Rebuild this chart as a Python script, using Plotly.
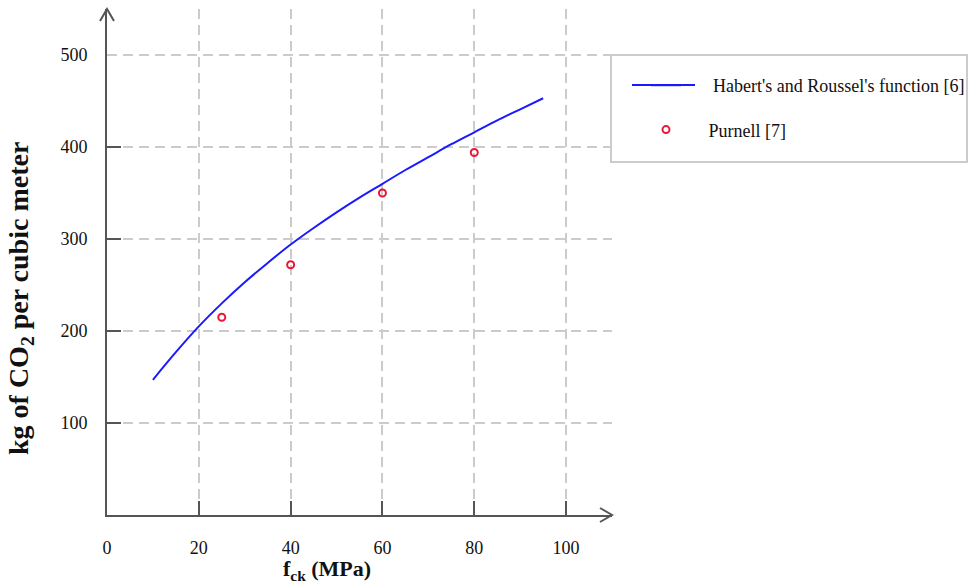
import plotly.graph_objects as go

# Habert's and Roussel's function
fck_curve = [10, 15, 20, 25, 30, 35, 40, 45, 50, 55, 60, 65, 70, 75, 80, 85, 90, 95]
co2_curve = [147, 177, 205, 230, 253, 274, 294, 312, 329, 345, 360, 375, 389, 403, 416, 429, 441, 453]

# Purnell [7]
fck_purnell = [25, 40, 60, 80]
co2_purnell = [215, 272, 350, 394]

x_ticks = [0, 20, 40, 60, 80, 100]
y_ticks = [100, 200, 300, 400, 500]

FONT = "Liberation Serif, Times New Roman, serif"
NB = "\u00a0"

fig = go.Figure()
fig.add_trace(go.Scatter(
    x=fck_curve, y=co2_curve, mode="lines", line=dict(color="#1a1aff", width=2, shape="spline"),
    name=NB * 6 + "Habert's and Roussel's function [6]", legendgroup="a"))
fig.add_trace(go.Scatter(
    x=fck_purnell, y=co2_purnell, mode="markers",
    marker=dict(symbol="circle-open", size=7, color="#e8173a", line=dict(width=2, color="#e8173a")),
    name=NB * 5 + "Purnell [7]", legendgroup="b"))

L, R, T, B = 107, 358, 9, 70
W, H = 970, 585
pw = W - L - R
ph = H - T - B

def px2paper_x(px):
    return (px - L) / pw

def px2paper_y(py):
    return (H - B - py) / ph

axis_color = "#555555"
grid_color = "#cccccc"

fig.update_layout(
    width=W, height=H,
    margin=dict(l=L, r=R, t=T, b=B, pad=0, autoexpand=False),
    plot_bgcolor="white", paper_bgcolor="white",
    font=dict(family=FONT, size=18, color="#111111"),
    showlegend=True,
    legend=dict(x=px2paper_x(646), xanchor="left", y=px2paper_y(67), yanchor="top",
                bgcolor="rgba(0,0,0,0)", borderwidth=0, tracegroupgap=18,
                font=dict(family=FONT, size=18, color="#111111"), itemwidth=30),
    xaxis=dict(range=[0, 110], tickvals=x_ticks, ticktext=[str(v) for v in x_ticks],
               ticks="", showgrid=True, gridcolor=grid_color, griddash="10px,6px", gridwidth=1.5,
               zeroline=False, showline=True, linecolor=axis_color, linewidth=2,
               ticklabelstandoff=15,
               minor=dict(tickvals=[20, 40, 60, 80, 100], ticks="inside", ticklen=14,
                          tickcolor=axis_color, tickwidth=2, showgrid=False)),
    yaxis=dict(range=[0, 550], tickvals=y_ticks, ticktext=[str(v) for v in y_ticks],
               ticks="", showgrid=True, gridcolor=grid_color, griddash="10px,6px", gridwidth=1.5,
               zeroline=False, showline=True, linecolor=axis_color, linewidth=2,
               ticklabelstandoff=14,
               minor=dict(tickvals=[100, 200, 300, 400], ticks="inside", ticklen=14,
                          tickcolor=axis_color, tickwidth=2, showgrid=False)),
)

# axis arrow heads (paper-referenced so they are not clipped)
fig.add_shape(type="path", xref="paper", yref="paper", xsizemode="pixel", ysizemode="pixel",
              xanchor=1, yanchor=0, path="M -12 7 L 0 0 L -12 -7",
              line=dict(color=axis_color, width=2))
fig.add_shape(type="path", xref="paper", yref="paper", xsizemode="pixel", ysizemode="pixel",
              xanchor=0, yanchor=1, path="M -7 -12 L 0 0 L 7 -12",
              line=dict(color=axis_color, width=2))

# legend box
fig.add_shape(type="rect", xref="paper", yref="paper",
              x0=px2paper_x(611), x1=px2paper_x(967), y0=px2paper_y(162), y1=px2paper_y(55),
              line=dict(color="#cccccc", width=2), fillcolor="white", layer="below")
# longer legend line sample
fig.add_shape(type="line", xref="paper", yref="paper",
              x0=px2paper_x(632), x1=px2paper_x(695), y0=px2paper_y(85), y1=px2paper_y(85),
              line=dict(color="#1a1aff", width=2))

# axis titles
fig.add_annotation(text="<b>f<sub>ck</sub> (MPa)</b>", xref="paper", yref="paper",
                   x=px2paper_x(327), y=px2paper_y(570), showarrow=False,
                   xanchor="center", yanchor="middle",
                   font=dict(family=FONT, size=22, color="#111111"))
fig.add_annotation(text="<b>kg of CO<sub>2</sub> per cubic meter</b>", xref="paper", yref="paper",
                   x=px2paper_x(20), y=px2paper_y(299), showarrow=False, textangle=-90,
                   xanchor="center", yanchor="middle",
                   font=dict(family=FONT, size=28, color="#111111"))

fig.write_html("out.html", config={"displayModeBar": False},
               post_script="document.body.style.margin='0px';")
